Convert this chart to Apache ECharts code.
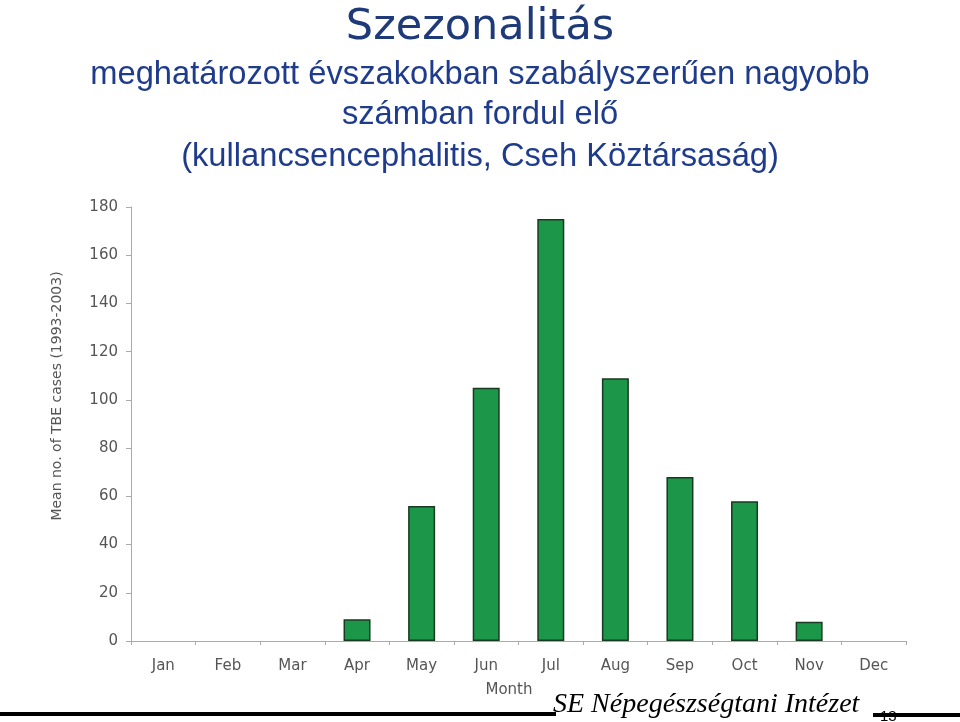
<!DOCTYPE html>
<html>
<head>
<meta charset="utf-8">
<script src="https://cdn.jsdelivr.net/npm/echarts@6/dist/echarts.min.js"></script>
<style>
html,body{margin:0;padding:0;background:#fff;}
#c{width:960px;height:722px;}
</style>
</head>
<body>
<div id="c"></div>
<script>
const months = ['Jan','Feb','Mar','Apr','May','Jun','Jul','Aug','Sep','Oct','Nov','Dec'];
const meanCases = [0, 0, 0, 9, 56, 105, 175, 109, 68, 58, 8, 0];
const yTicks = [0, 20, 40, 60, 80, 100, 120, 140, 160, 180];
const titleText = 'Szezonalitás';
const subtitleLines = [
  'meghatározott évszakokban szabályszerűen nagyobb',
  'számban fordul elő',
  '(kullancsencephalitis, Cseh Köztársaság)'
];
const yAxisName = 'Mean no. of TBE cases (1993-2003)';
const xAxisName = 'Month';
const footerText = 'SE Népegészségtani Intézet';
const pageNumber = '13';

const chart = echarts.init(document.getElementById('c'));
const titleColor = '#1f3a78';
const subColor = '#1f3c8c';
const subTops = [53, 93, 135];
const labelColor = '#555';

chart.setOption({
  animation: false,
  title: [
    {text: titleText, left: 'center', top: 1, textStyle: {fontFamily: 'DejaVu Sans', fontWeight: 'normal', fontSize: 43, color: titleColor}}
  ].concat(subtitleLines.map((t, i) => ({
    text: t, left: 'center', top: subTops[i],
    textStyle: {fontFamily: 'Liberation Sans', fontWeight: 'normal', fontSize: 32.7, color: subColor}
  }))),
  grid: {left: 131, right: 54, top: 207, bottom: 81, containLabel: false},
  xAxis: {
    type: 'category',
    data: months,
    axisLine: {lineStyle: {color: '#aaa', width: 1}},
    axisTick: {show: true, alignWithLabel: false, length: 4, lineStyle: {color: '#aaa'}},
    axisLabel: {fontFamily: 'DejaVu Sans', fontSize: 15, color: labelColor, margin: 18}
  },
  yAxis: {
    type: 'value',
    min: 0, max: 180, interval: 20,
    axisLine: {show: true, lineStyle: {color: '#aaa', width: 1}},
    axisTick: {show: true, length: 5, lineStyle: {color: '#aaa'}},
    splitLine: {show: false},
    axisLabel: {fontFamily: 'DejaVu Sans', fontSize: 15, color: labelColor, margin: 13,
      formatter: v => yTicks.includes(v) ? String(v) : ''}
  },
  series: [{
    type: 'bar',
    data: meanCases.map(v => v === 0 ? null : v),
    barWidth: 27,
    itemStyle: {color: '#1c974a', borderColor: '#183a20', borderWidth: 1.5}
  }],
  graphic: [
    {type: 'text', x: 57, y: 396, rotation: Math.PI / 2, style: {text: yAxisName, font: '14px "DejaVu Sans"', fill: labelColor, align: 'center', verticalAlign: 'middle'}},
    {type: 'text', x: 509, y: 690, style: {text: xAxisName, font: '15px "DejaVu Sans"', fill: labelColor, align: 'center', verticalAlign: 'middle'}},
    {type: 'text', x: 880, y: 709, style: {text: pageNumber, font: '15px "Liberation Sans"', fill: '#000'}},
    {type: 'rect', shape: {x: 0, y: 712, width: 556, height: 4}, style: {fill: '#000'}},
    {type: 'rect', shape: {x: 873, y: 713, width: 87, height: 4}, style: {fill: '#000'}},
    {type: 'text', x: 553, y: 691, style: {text: footerText, font: 'italic 28px "Liberation Serif"', fill: '#000'}}
  ]
});
</script>
</body>
</html>
